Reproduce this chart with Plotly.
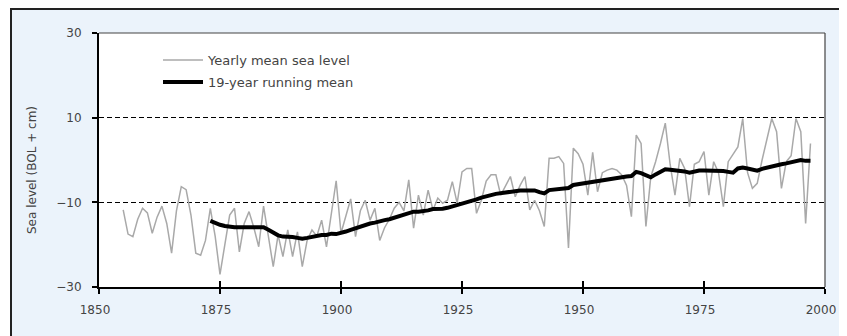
import plotly.graph_objects as go

# ---- data ----
years = list(range(1855, 1998))
yearly_mean = [
    -11.8, -17.5, -18.1, -14.0, -11.4, -12.5, -17.3, -13.5, -10.9, -15.0,   # 1855-1864
    -22.0, -12.0, -6.3, -7.0, -13.0, -22.0, -22.5, -19.0, -11.4, -18.0,     # 1865-1874
    -27.0, -20.5, -13.0, -11.4, -21.7, -15.0, -12.2, -16.0, -20.5, -10.9,   # 1875-1884
    -18.0, -25.2, -17.7, -22.8, -16.5, -22.8, -17.0, -25.2, -19.0, -16.5,   # 1885-1894
    -18.0, -14.2, -20.5, -13.0, -4.9, -17.3, -13.0, -9.2, -18.1, -12.0,     # 1895-1904
    -9.5, -14.2, -11.4, -19.0, -16.0, -14.0, -11.4, -10.0, -12.0, -4.7,     # 1905-1914
    -16.1, -8.3, -13.0, -7.1, -11.8, -9.0, -10.2, -9.5, -5.1, -10.2,        # 1915-1924
    -2.8, -2.0, -2.0, -12.6, -9.5, -5.0, -3.5, -3.5, -8.3, -6.0,            # 1925-1934
    -3.9, -8.7, -6.0, -3.9, -11.8, -9.5, -12.0, -15.7, 0.4, 0.4,            # 1935-1944
    0.8, -0.8, -20.8, 2.8, 1.5, -1.0, -8.3, 1.8, -7.5, -3.0,                # 1945-1954
    -2.4, -2.0, -2.4, -3.5, -6.0, -13.4, 5.9, 3.9, -15.7, -4.0,             # 1955-1964
    -0.4, 3.9, 8.7, -1.0, -8.3, 0.4, -2.0, -11.0, -1.0, -0.4,               # 1965-1974
    2.0, -8.3, -0.4, -3.0, -11.0, -0.4, 1.2, 3.1, 9.8, -3.0,                # 1975-1984
    -6.7, -5.5, 0.0, 4.7, 9.8, 6.7, -6.7, -0.4, 1.0, 9.8,                   # 1985-1994
    6.7, -15.0, 3.9,                                                        # 1995-1997
]

rm_years = list(range(1873, 1998))
running_mean = [
    -14.4, -14.9, -15.3, -15.6, -15.8, -15.9, -15.9,                        # 1873-1879
    -15.9, -15.8, -15.8, -15.8, -15.9, -16.5, -17.2, -17.8, -18.1, -18.1,   # 1880-1889
    -18.2, -18.4, -18.6, -18.4, -18.1, -17.8, -17.7, -17.7, -17.4, -17.5,   # 1890-1899
    -17.3, -16.9, -16.5, -16.1, -15.7, -15.4, -15.0, -14.8, -14.4, -14.2,   # 1900-1909
    -14.0, -13.6, -13.2, -12.8, -12.5, -12.2, -12.2, -12.1, -11.9, -11.6,   # 1910-1919
    -11.6, -11.5, -11.3, -11.0, -10.6, -10.2, -9.9, -9.6, -9.3, -8.9,       # 1920-1929
    -8.5, -8.3, -8.0, -7.8, -7.7, -7.5, -7.3, -7.2, -7.2, -7.2,             # 1930-1939
    -7.2, -7.6, -7.9, -7.1, -7.0, -6.9, -6.8, -6.6, -5.9, -5.7,             # 1940-1949
    -5.5, -5.3, -5.1, -4.9, -4.7, -4.5, -4.4, -4.2, -4.0, -3.9,             # 1950-1959
    -3.8, -2.8, -3.1, -3.6, -4.1, -3.4, -2.8, -2.2, -2.3, -2.4,             # 1960-1969
    -2.5, -2.7, -3.0, -2.7, -2.5, -2.5, -2.5, -2.5, -2.5, -2.6,             # 1970-1979
    -2.8, -3.0, -2.0, -1.8, -2.0, -2.3, -2.5, -2.1, -1.8, -1.4,             # 1980-1989
    -1.2, -1.0, -0.8, -0.6, -0.2, 0.0, -0.2, -0.2,                          # 1990-1997
]

x_ticks = [1850, 1875, 1900, 1925, 1950, 1975, 2000]
y_ticks = [-30, -10, 10, 30]
y_title = "Sea level (BOL + cm)"
label_yearly = "Yearly mean sea level"
label_running = "19-year running mean"

FONT = "DejaVu Sans"
TXT = "#444444"

# page body has an 8px margin, so the figure is shrunk by that amount
W, H = 839, 328
PL, PT, PR, PB = 91, 25, 22, 49
plot_w = W - PL - PR   # 726
plot_h = H - PT - PB   # 254
PAGE_OFF = 8

def px_to_paper_x(px):
    return (px - PAGE_OFF - PL) / plot_w

def px_to_paper_y(py):
    return (H - PB - (py - PAGE_OFF)) / plot_h

fig = go.Figure()
fig.add_trace(go.Scatter(
    x=years, y=yearly_mean, mode="lines", name=label_yearly,
    line=dict(color="#a9a9a9", width=1.5), legend="legend",
))
fig.add_trace(go.Scatter(
    x=rm_years, y=running_mean, mode="lines", name=label_running,
    line=dict(color="black", width=4), xaxis="x2", legend="legend2",
))

# outer box (light blue panel with black border, cropped at right/bottom)
box_top = px_to_paper_y(9)
box_left = px_to_paper_x(11)
shapes = [
    dict(type="rect", xref="paper", yref="paper", x0=-0.3, x1=box_left, y0=-0.6, y1=1.6,
         fillcolor="white", line=dict(width=0), layer="above"),
    dict(type="rect", xref="paper", yref="paper", x0=-0.3, x1=1.3, y0=box_top, y1=1.6,
         fillcolor="white", line=dict(width=0), layer="above"),
    dict(type="rect", xref="paper", yref="paper", x0=box_left, x1=1.3, y0=-0.6, y1=box_top,
         fillcolor="rgba(0,0,0,0)", line=dict(color="#222222", width=2), layer="above"),
    # top and right frame of the plot area
    dict(type="line", xref="paper", yref="paper", x0=0, x1=1, y0=1, y1=1,
         line=dict(color="#444444", width=1.2), layer="above"),
    dict(type="line", xref="paper", yref="paper", x0=1, x1=1, y0=0, y1=1,
         line=dict(color="#444444", width=1.2), layer="above"),
]

fig.update_layout(
    width=W, height=H,
    margin=dict(l=PL, r=PR, t=PT, b=PB),
    paper_bgcolor="#ebf3fb", plot_bgcolor="white",
    font=dict(family=FONT, size=12, color=TXT),
    showlegend=True,
    shapes=shapes,
    xaxis=dict(
        range=[1850, 2000], tickvals=x_ticks, ticks="outside", ticklen=5, tickwidth=2,
        tickcolor="black", showline=True, linecolor="black", linewidth=2,
        showgrid=False, zeroline=False, ticklabelshift=-4, ticklabelstandoff=6,
        tickfont=dict(family=FONT, size=12, color=TXT),
    ),
    xaxis2=dict(
        range=[1850, 2000], matches="x", overlaying="x", anchor="y", tickvals=x_ticks,
        ticks="inside", ticklen=6, tickwidth=2, tickcolor="black",
        showticklabels=False, showline=False, showgrid=False, zeroline=False,
    ),
    yaxis=dict(
        range=[-30, 30], tickvals=y_ticks, ticks="outside", ticklen=5, tickwidth=1.5,
        tickcolor="black", showline=True, linecolor="black", linewidth=2,
        showgrid=True, gridcolor="black", gridwidth=1.3, griddash="5px,3px",
        zeroline=False, ticklabelstandoff=8,
        tickfont=dict(family=FONT, size=12, color=TXT),
    ),
    legend=dict(
        x=px_to_paper_x(158), y=px_to_paper_y(60), xanchor="left", yanchor="middle",
        bgcolor="rgba(0,0,0,0)", borderwidth=0, itemwidth=40,
        font=dict(family=FONT, size=13, color=TXT),
    ),
    legend2=dict(
        x=px_to_paper_x(158), y=px_to_paper_y(82), xanchor="left", yanchor="middle",
        bgcolor="rgba(0,0,0,0)", borderwidth=0, itemwidth=40,
        font=dict(family=FONT, size=13, color=TXT),
    ),
    annotations=[dict(
        text=y_title, textangle=-90, xref="paper", yref="paper",
        x=px_to_paper_x(32), y=px_to_paper_y(170), xanchor="center", yanchor="middle",
        showarrow=False, font=dict(family=FONT, size=12, color=TXT),
    )],
)

fig.write_html("out.html")
